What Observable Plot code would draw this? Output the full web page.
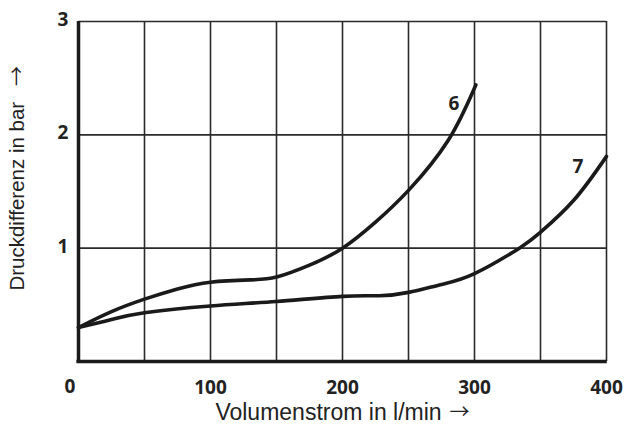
<!DOCTYPE html>
<html><head><meta charset="utf-8">
<script src="https://cdn.jsdelivr.net/npm/d3@7"></script>
<script src="https://cdn.jsdelivr.net/npm/@observablehq/plot@0.6"></script>
<style>body{margin:0;background:#fff}</style>
</head><body><div id="chart"></div>
<script>
const flow6 = [0, 25, 50, 75, 100, 130, 150, 175, 200, 225, 250, 280, 301];
const dp6   = [0.30, 0.44, 0.55, 0.64, 0.70, 0.72, 0.745, 0.85, 1.00, 1.23, 1.51, 1.95, 2.44];
const flow7 = [0, 25, 50, 100, 150, 200, 228, 250, 275, 300, 334, 350, 375, 400];
const dp7   = [0.30, 0.37, 0.43, 0.49, 0.53, 0.575, 0.58, 0.61, 0.68, 0.775, 1.00, 1.14, 1.42, 1.81];
const xGrid = [50, 100, 150, 200, 250, 300, 350, 400];
const yGrid = [1, 2, 3];
const xTicks = [100, 200, 300, 400];
const xZero = [0];
const yTicks = [1, 2, 3];
const curveLabels = [{x: 284.5, y: 2.276, t: "6"}, {x: 378.4, y: 1.72, t: "7"}];
const xTitle = "Volumenstrom in l/min";
const yTitle = "Druckdifferenz in bar";
const arrow = "\u2192";

const s6 = flow6.map((x, i) => ({x, y: dp6[i]}));
const s7 = flow7.map((x, i) => ({x, y: dp7[i]}));
const bold = "Open Sans, Liberation Sans, sans-serif";
const reg = "Liberation Sans, Arial, sans-serif";
const arrowFont = "Noto Sans CJK JP, DejaVu Sans, sans-serif";

const chart = Plot.plot({
  width: 624, height: 432,
  marginLeft: 78, marginRight: 18, marginTop: 21, marginBottom: 71,
  x: {domain: [0, 400], axis: null},
  y: {domain: [0, 3], axis: null},
  style: {background: "#fff"},
  marks: [
    Plot.ruleX(xGrid, {stroke: "#2a2a2a", strokeWidth: 1.6}),
    Plot.ruleY(yGrid, {stroke: "#2a2a2a", strokeWidth: 1.6}),
    Plot.ruleX([0], {stroke: "#1a1a1a", strokeWidth: 3.5, y1: -0.012, y2: 3.0}),
    Plot.ruleY([0], {stroke: "#1a1a1a", strokeWidth: 3.5, x1: -1.2, x2: 400.6}),
    Plot.line(s6, {x: "x", y: "y", curve: "natural", stroke: "#1a1a1a", strokeWidth: 3.6}),
    Plot.line(s7, {x: "x", y: "y", curve: "natural", stroke: "#1a1a1a", strokeWidth: 3.6}),
    Plot.text(curveLabels, {x: "x", y: "y", text: "t", fontFamily: bold, fontWeight: "bold", fontSize: 19, fill: "#222"}),
    Plot.text(xTicks, {x: d => d, y: 0, text: d => String(d), dy: 26, fontFamily: bold, fontWeight: "bold", fontSize: 19, fill: "#222"}),
    Plot.text(xZero, {x: d => d, y: 0, text: d => String(d), dy: 25, dx: -8.5, fontFamily: bold, fontWeight: "bold", fontSize: 19, fill: "#222"}),
    Plot.text(yTicks, {x: 0, y: d => d, text: d => String(d), dx: -15.5, dy: -1.5, fontFamily: bold, fontWeight: "bold", fontSize: 19, fill: "#222"}),
    Plot.text([xTitle], {x: 275.1, y: 0, dy: 51, textAnchor: "end", text: d => d, fontFamily: reg, fontSize: 23, fill: "#222"}),
    Plot.text([arrow], {x: 288.7, y: 0, dy: 51, text: d => d, fontFamily: arrowFont, fontSize: 20, fill: "#222"}),
    Plot.text([yTitle], {x: 0, y: 0.6256, dx: -61, textAnchor: "start", rotate: -90, text: d => d, fontFamily: reg, fontSize: 20.5, fill: "#222"}),
    Plot.text([arrow], {x: 0, y: 2.52, dx: -61, rotate: -90, text: d => d, fontFamily: arrowFont, fontSize: 20, fill: "#222"})
  ]
});
document.getElementById("chart").append(chart);
</script>
</body></html>
